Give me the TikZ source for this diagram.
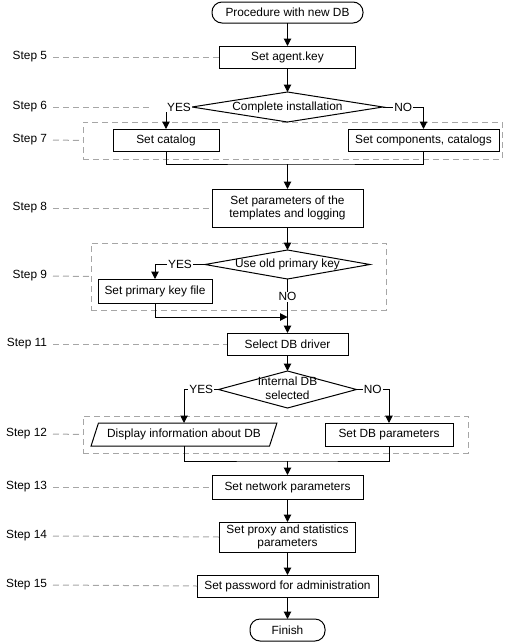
\documentclass[tikz,border=0pt]{standalone}
\usepackage{fontspec}
\setmainfont{Liberation Sans}
\usetikzlibrary{arrows.meta,shapes.geometric}
\begin{document}
\begin{tikzpicture}[x=0.75pt,y=-0.75pt,
  font=\fontsize{8.9pt}{10.3pt}\selectfont,
  every node/.style={inner sep=0pt, outer sep=0pt},
  box/.style={draw, line width=0.75pt, rectangle, align=center},
  term/.style={draw, line width=0.75pt, rectangle, rounded corners=7.5pt},
  dec/.style={draw, line width=0.75pt, diamond},
  io/.style={draw, line width=0.75pt, trapezium, trapezium left angle=59, trapezium right angle=121, trapezium stretches=true},
  conn/.style={line width=0.75pt},
  arr/.style={conn, -{Triangle[length=5.5pt,width=5.5pt]}},
  guide/.style={black!35, line width=0.75pt, dash pattern=on 4.5pt off 3pt},
  grp/.style={draw=black!35, line width=0.75pt, dash pattern=on 4.5pt off 3pt},
  steplbl/.style={anchor=east, outer xsep=4.5pt},
  yn/.style={fill=white, inner sep=0.8pt}
]
\useasboundingbox (0,0) rectangle (507,643);

% group frames
\node[grp, minimum width=314.25pt, minimum height=27.75pt] (g7) at (292.5,140.5) {};
\node[grp, minimum width=221.25pt, minimum height=50.25pt] (g9) at (238.5,276.5) {};
\node[grp, minimum width=288.75pt, minimum height=27.75pt] (g12) at (275.5,434.5) {};

% main nodes
\node[term, minimum width=113.25pt, minimum height=15.75pt] (start) at (287.5,12.5) {Procedure with new DB};
\node[box, minimum width=102pt, minimum height=16.5pt] (agent) at (287.5,57) {Set agent.key};
\node[dec, minimum width=143.25pt, minimum height=22.5pt] (d6) at (287.5,107) {\makebox[0pt]{Complete installation}};
\node[box, minimum width=79.5pt, minimum height=16.5pt] (cat) at (166,140) {Set catalog};
\node[box, minimum width=113.25pt, minimum height=16.5pt] (comp) at (423.5,140) {Set components, catalogs};
\node[box, minimum width=113.25pt, minimum height=28.5pt] (params) at (287.5,208) {Set parameters of the\\templates and logging};
\node[dec, minimum width=123.75pt, minimum height=21.75pt] (d9) at (287.5,264.5) {\makebox[0pt]{Use old primary key}};
\node[box, minimum width=85.5pt, minimum height=18pt] (pk) at (155,291) {Set primary key file};
\node[box, minimum width=90.75pt, minimum height=16.5pt] (sel) at (287.5,344) {Select DB driver};
\node[dec, minimum width=103.5pt, minimum height=27.75pt] (d12) at (287.5,389.5) {\makebox[0pt]{\begin{tabular}{@{}c@{}}Internal DB\\selected\end{tabular}}};
\node[io, minimum width=139.5pt, minimum height=17.25pt] (par) at (184,434.5) {Display information about DB};
\node[box, minimum width=96pt, minimum height=17.25pt] (dbp) at (389,434.5) {Set DB parameters};
\node[box, minimum width=113.25pt, minimum height=18pt] (net) at (287.5,487) {Set network parameters};
\node[box, minimum width=102pt, minimum height=22.5pt] (proxy) at (287.5,537) {Set proxy and statistics\\parameters};
\node[box, minimum width=135.75pt, minimum height=16.5pt] (pwd) at (287.5,586) {Set password for administration};
\node[term, minimum width=56.25pt, minimum height=16.5pt] (fin) at (287.5,630) {Finish};

% step labels
\node[steplbl] (l5) at (53,57) {Step 5};
\node[steplbl] (l6) at (53,107) {Step 6};
\node[steplbl] (l7) at (53,140) {Step 7};
\node[steplbl] (l8) at (53,208) {Step 8};
\node[steplbl] (l9) at (53,276) {Step 9};
\node[steplbl] (l11) at (53,344) {Step 11};
\node[steplbl] (l12) at (53,434) {Step 12};
\node[steplbl] (l13) at (53,487) {Step 13};
\node[steplbl] (l14) at (53,536) {Step 14};
\node[steplbl] (l15) at (53,585) {Step 15};
\coordinate (c6) at (152,107);

\draw[guide] (l5.east) -- (agent.west);
\draw[guide] (l6.east) -- (c6);
\draw[guide] (l7.east) -- (g7.west);
\draw[guide] (l8.east) -- (params.west);
\draw[guide] (l9.east) -- (g9.west);
\draw[guide] (l11.east) -- (sel.west);
\draw[guide] (l12.east) -- (g12.west);
\draw[guide] (l13.east) -- (net.west);
\draw[guide] (l14.east) -- (proxy.west);
\draw[guide] (l15.east) -- (pwd.west);

% connectors
\draw[arr] (start) -- (agent);
\draw[arr] (agent) -- (d6);
\draw[arr] (d6.west) -| node[yn, pos=0.25] {YES} (cat.north);
\draw[arr] (d6.east) -| node[yn, pos=0.25] {NO} (comp.north);
\coordinate (j7) at (287.5,164);
\draw[conn] (cat.south) |- (j7) -| (comp.south);
\draw[arr] (j7) -- (params);
\draw[arr] (params) -- (d9);
\draw[arr] (d9.west) -| node[yn, pos=0.25] {YES} (pk.north);
\draw[arr] (d9.south) -- node[yn, pos=0.33] {NO} (sel.north);
\coordinate (j9) at (287.5,317);
\draw[arr] (pk.south) |- (j9);
\draw[arr] (sel) -- (d12);
\draw[arr] (d12.west) -| node[yn, pos=0.25] {YES} (par.north);
\draw[arr] (d12.east) -| node[yn, pos=0.25] {NO} (dbp.north);
\coordinate (j12) at (287.5,461);
\draw[conn] (par.south) |- (j12) -| (dbp.south);
\draw[arr] (j12) -- (net);
\draw[arr] (net) -- (proxy);
\draw[arr] (proxy) -- (pwd);
\draw[arr] (pwd) -- (fin);
\end{tikzpicture}
\end{document}
